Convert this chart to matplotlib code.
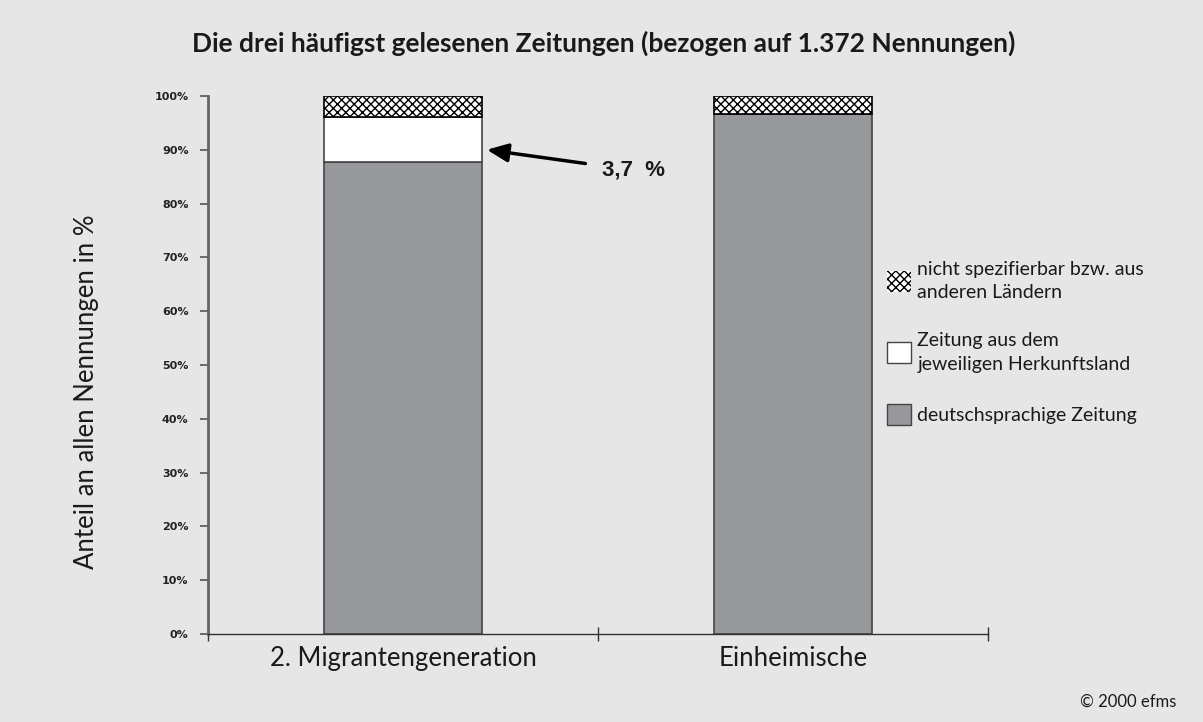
import matplotlib
matplotlib.use("Agg")
import matplotlib.pyplot as plt
from matplotlib.patches import Patch

categories = ["2. Migrantengeneration", "Einheimische"]
deutsch = [87.7, 96.7]
herkunft = [8.4, 0.0]
sonstige = [3.9, 3.3]
yticks = [0, 10, 20, 30, 40, 50, 60, 70, 80, 90, 100]
legend_labels = ["nicht spezifierbar bzw. aus\nanderen Ländern",
                 "Zeitung aus dem\njeweiligen Herkunftsland",
                 "deutschsprachige Zeitung"]

BG = "#e6e6e6"
GREY = "#96989c"
plt.rcParams['font.family'] = ['Lato', 'DejaVu Sans']
plt.rcParams['hatch.linewidth'] = 1.0

fig = plt.figure(figsize=(12.03, 7.22), dpi=100, facecolor=BG)
ax = fig.add_axes([0.1729, 0.1219, 0.6484, 0.7452], facecolor=BG)

x = [0.5, 1.5]
w = 0.405
ax.bar(x, deutsch, w, color=GREY, edgecolor="#444444", linewidth=1.2)
ax.bar(x, herkunft, w, bottom=deutsch, color="white", edgecolor="#444444", linewidth=1.2)
bottom3 = [d + h for d, h in zip(deutsch, herkunft)]
ax.bar(x, sonstige, w, bottom=bottom3, color="white", edgecolor="#000000",
       hatch="xxxx", linewidth=1.2)

ax.set_xlim(0, 2)
ax.set_ylim(0, 100)
ax.set_yticks(yticks)
ax.set_yticklabels([f"{v}%" for v in yticks], fontsize=8, fontweight="bold", color="#222222",
                   family="DejaVu Sans")
ax.tick_params(axis="y", length=6, width=1.2, color="#555555", pad=8)
ax.set_xticks([0, 1, 2])
ax.set_xticklabels([])
ax.tick_params(axis="x", which="major", length=10, width=1, direction="inout", color="#333333")
ax.set_xticks(x, minor=True)
ax.set_xticklabels(categories, minor=True, fontsize=18.5, color="#1a1a1a")
ax.tick_params(axis="x", which="minor", length=0, pad=9)

for s in ["top", "right"]:
    ax.spines[s].set_visible(False)
ax.spines["left"].set_color("#666666")
ax.spines["left"].set_linewidth(2)
ax.spines["bottom"].set_color("#333333")
ax.spines["bottom"].set_linewidth(1)

ax.set_ylabel("Anteil an allen Nennungen in %", fontsize=18.5, color="#1a1a1a")
ax.yaxis.set_label_coords(-0.14, 0.45)

fig.text(0.502, 0.94, "Die drei häufigst gelesenen Zeitungen (bezogen auf 1.372 Nennungen)",
         ha="center", va="center", fontsize=19, fontweight="bold", color="#1a1a1a")

ax.annotate("3,7  %", xy=(0.715, 90.0), xytext=(1.01, 86.2), fontsize=16, fontweight="bold",
            color="#1a1a1a", va="center", ha="left", family="Liberation Sans",
            arrowprops=dict(arrowstyle="-|>,head_length=0.8,head_width=0.35", color="black",
                            lw=2.5, shrinkA=10, shrinkB=0))

handles = [Patch(facecolor="white", edgecolor="#000000", hatch="xxxx", linewidth=0),
           Patch(facecolor="white", edgecolor="#444444"),
           Patch(facecolor=GREY, edgecolor="#444444")]
leg = fig.legend(handles, legend_labels, loc="upper left", bbox_to_anchor=(0.723, 0.663),
                 frameon=False, fontsize=14, labelspacing=1.6, handlelength=1.2, handleheight=1.3,
                 handletextpad=0.35, labelcolor="#1a1a1a")
for t in leg.get_texts():
    t.set_linespacing(1.45)

fig.text(0.978, 0.028, "© 2000 efms", ha="right", va="center", fontsize=12, color="#1a1a1a")

fig.savefig("out.png", dpi=100, facecolor=BG)
